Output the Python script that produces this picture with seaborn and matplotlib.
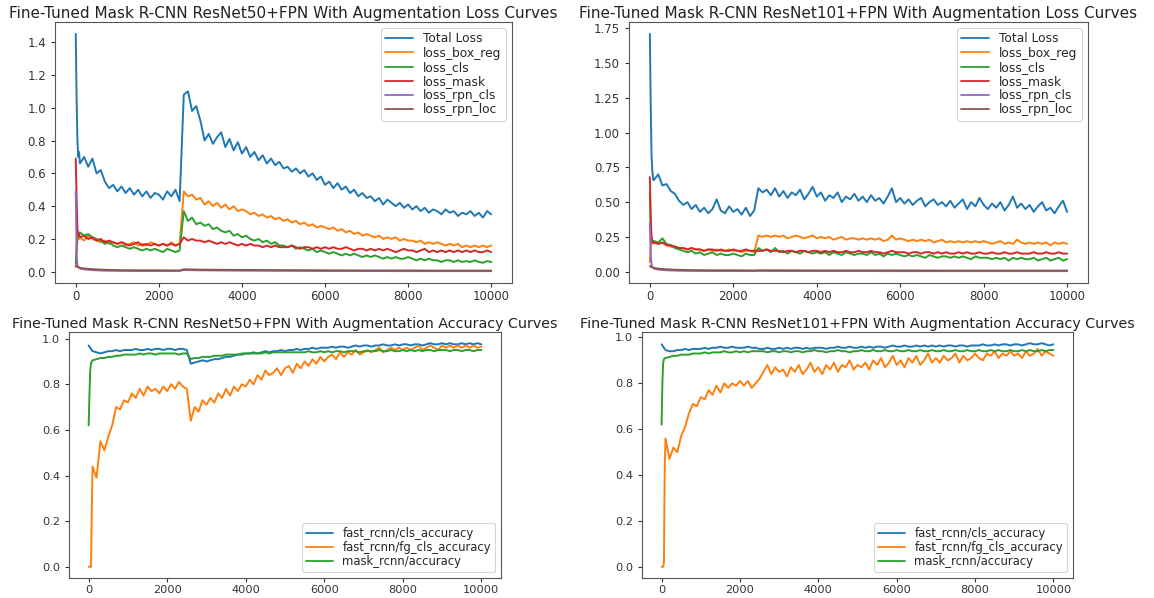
import matplotlib
matplotlib.use("Agg")
import matplotlib.pyplot as plt
import seaborn as sns

# ---------------------------------------------------------------------------
# Training logs (iteration grid shared by the per-iteration metrics)
# ---------------------------------------------------------------------------
ITERS = [0, 20, 40, 60, 80] + list(range(100, 10001, 100))
RPN_ITERS = [0, 20, 40, 60, 80, 100, 200, 400, 700, 1000, 1500, 2000, 2500,
             2600, 3000, 4000, 5000, 6000, 7000, 8000, 9000, 10000]

# ResNet50+FPN losses
r50_total_loss = [
    1.45, 1.05, 0.80, 0.70, 0.73,
    0.66, 0.70, 0.64, 0.69, 0.60, 0.62, 0.55, 0.51, 0.53, 0.49,
    0.52, 0.48, 0.51, 0.47, 0.50, 0.46, 0.49, 0.45, 0.48, 0.47,
    0.44, 0.49, 0.46, 0.50, 0.43, 1.08, 1.10, 0.98, 1.01, 0.92,
    0.80, 0.84, 0.78, 0.82, 0.85, 0.76, 0.81, 0.74, 0.79, 0.72,
    0.76, 0.70, 0.73, 0.68, 0.71, 0.66, 0.69, 0.65, 0.67, 0.63,
    0.64, 0.61, 0.63, 0.60, 0.62, 0.58, 0.60, 0.56, 0.58, 0.53,
    0.55, 0.51, 0.54, 0.50, 0.52, 0.48, 0.50, 0.46, 0.48, 0.45,
    0.46, 0.43, 0.45, 0.41, 0.44, 0.42, 0.40, 0.42, 0.39, 0.41,
    0.38, 0.40, 0.37, 0.39, 0.36, 0.38, 0.37, 0.35, 0.38, 0.36,
    0.37, 0.34, 0.36, 0.35, 0.37, 0.34, 0.36, 0.33, 0.37, 0.35,
]
r50_loss_box_reg = [
    0.03, 0.12, 0.19, 0.21, 0.20,
    0.21, 0.19, 0.22, 0.20, 0.19, 0.18, 0.19, 0.17, 0.18, 0.17,
    0.18, 0.16, 0.17, 0.18, 0.16, 0.17, 0.16, 0.18, 0.17, 0.16,
    0.17, 0.16, 0.18, 0.16, 0.17, 0.49, 0.46, 0.47, 0.44, 0.45,
    0.41, 0.43, 0.40, 0.42, 0.39, 0.41, 0.38, 0.40, 0.37, 0.38,
    0.37, 0.35, 0.36, 0.34, 0.35, 0.33, 0.34, 0.32, 0.33, 0.31,
    0.32, 0.30, 0.31, 0.29, 0.30, 0.28, 0.29, 0.27, 0.28, 0.27,
    0.26, 0.27, 0.25, 0.26, 0.24, 0.25, 0.23, 0.24, 0.22, 0.23,
    0.22, 0.21, 0.22, 0.20, 0.21, 0.20, 0.21, 0.19, 0.20, 0.19,
    0.19, 0.18, 0.19, 0.17, 0.18, 0.17, 0.18, 0.17, 0.16, 0.17,
    0.16, 0.17, 0.15, 0.16, 0.15, 0.16, 0.15, 0.16, 0.15, 0.16,
]
r50_loss_cls = [
    0.05, 0.15, 0.22, 0.24, 0.23,
    0.24, 0.22, 0.23, 0.21, 0.20, 0.19, 0.17, 0.18, 0.16, 0.15,
    0.16, 0.15, 0.14, 0.15, 0.14, 0.13, 0.14, 0.13, 0.14, 0.13,
    0.12, 0.14, 0.13, 0.12, 0.13, 0.37, 0.31, 0.33, 0.29, 0.30,
    0.28, 0.29, 0.26, 0.27, 0.25, 0.24, 0.25, 0.22, 0.23, 0.21,
    0.22, 0.20, 0.19, 0.20, 0.18, 0.19, 0.17, 0.18, 0.16, 0.16,
    0.15, 0.16, 0.14, 0.15, 0.14, 0.13, 0.14, 0.12, 0.13, 0.12,
    0.11, 0.12, 0.11, 0.10, 0.11, 0.10, 0.11, 0.10, 0.09, 0.10,
    0.09, 0.10, 0.09, 0.08, 0.09, 0.08, 0.09, 0.08, 0.08, 0.09,
    0.08, 0.07, 0.08, 0.07, 0.08, 0.07, 0.07, 0.06, 0.07, 0.07,
    0.06, 0.07, 0.06, 0.065, 0.06, 0.07, 0.06, 0.055, 0.065, 0.06,
]
r50_loss_mask = [
    0.69, 0.45, 0.26, 0.22, 0.23,
    0.21, 0.22, 0.20, 0.21, 0.19, 0.20, 0.18, 0.19, 0.18, 0.17,
    0.18, 0.17, 0.16, 0.17, 0.18, 0.16, 0.17, 0.16, 0.17, 0.16,
    0.17, 0.16, 0.17, 0.16, 0.17, 0.21, 0.19, 0.20, 0.19, 0.19,
    0.18, 0.19, 0.18, 0.17, 0.18, 0.17, 0.18, 0.17, 0.16, 0.17,
    0.16, 0.17, 0.16, 0.16, 0.15, 0.16, 0.15, 0.16, 0.15, 0.15,
    0.15, 0.16, 0.15, 0.14, 0.15, 0.15, 0.14, 0.15, 0.14, 0.15,
    0.14, 0.15, 0.14, 0.14, 0.15, 0.14, 0.13, 0.14, 0.14, 0.13,
    0.14, 0.13, 0.14, 0.13, 0.14, 0.13, 0.12, 0.13, 0.14, 0.13,
    0.13, 0.12, 0.13, 0.14, 0.12, 0.13, 0.12, 0.13, 0.12, 0.13,
    0.12, 0.13, 0.12, 0.13, 0.12, 0.13, 0.12, 0.12, 0.13, 0.12,
]
r50_loss_rpn_cls = [0.49, 0.10, 0.04, 0.03, 0.025, 0.02, 0.015, 0.010, 0.007,
                    0.006, 0.005, 0.005, 0.005, 0.011, 0.009, 0.007, 0.006,
                    0.005, 0.005, 0.004, 0.004, 0.004]
r50_loss_rpn_loc = [0.035, 0.032, 0.030, 0.028, 0.026, 0.024, 0.020, 0.016,
                    0.012, 0.010, 0.009, 0.009, 0.008, 0.015, 0.013, 0.011,
                    0.010, 0.009, 0.008, 0.008, 0.007, 0.007]

# ResNet101+FPN losses
r101_total_loss = [
    1.71, 1.20, 0.84, 0.72, 0.66,
    0.66, 0.70, 0.62, 0.63, 0.58, 0.56, 0.51, 0.48, 0.50, 0.45,
    0.48, 0.43, 0.46, 0.42, 0.45, 0.52, 0.44, 0.42, 0.47, 0.43,
    0.45, 0.41, 0.46, 0.40, 0.44, 0.60, 0.57, 0.59, 0.55, 0.60,
    0.54, 0.58, 0.53, 0.57, 0.55, 0.59, 0.52, 0.56, 0.61, 0.54,
    0.57, 0.51, 0.55, 0.53, 0.57, 0.50, 0.54, 0.52, 0.56, 0.51,
    0.54, 0.50, 0.55, 0.51, 0.53, 0.49, 0.54, 0.60, 0.50, 0.53,
    0.49, 0.52, 0.48, 0.51, 0.53, 0.47, 0.50, 0.52, 0.48, 0.50,
    0.47, 0.51, 0.46, 0.49, 0.52, 0.45, 0.50, 0.47, 0.53, 0.48,
    0.45, 0.49, 0.46, 0.50, 0.44, 0.48, 0.54, 0.46, 0.49, 0.45,
    0.48, 0.43, 0.47, 0.50, 0.44, 0.46, 0.42, 0.47, 0.51, 0.43,
]
r101_loss_box_reg = [
    0.07, 0.18, 0.22, 0.21, 0.20,
    0.21, 0.20, 0.21, 0.19, 0.18, 0.18, 0.17, 0.17, 0.16, 0.17,
    0.16, 0.16, 0.15, 0.16, 0.15, 0.16, 0.15, 0.15, 0.16, 0.15,
    0.15, 0.14, 0.15, 0.15, 0.14, 0.26, 0.25, 0.26, 0.25, 0.26,
    0.25, 0.26, 0.24, 0.25, 0.26, 0.25, 0.24, 0.25, 0.26, 0.24,
    0.25, 0.24, 0.25, 0.23, 0.24, 0.25, 0.23, 0.24, 0.24, 0.23,
    0.24, 0.23, 0.24, 0.23, 0.24, 0.22, 0.23, 0.26, 0.23, 0.24,
    0.23, 0.22, 0.23, 0.22, 0.23, 0.22, 0.23, 0.21, 0.22, 0.23,
    0.21, 0.22, 0.21, 0.22, 0.21, 0.22, 0.21, 0.22, 0.21, 0.22,
    0.21, 0.20, 0.21, 0.22, 0.20, 0.21, 0.20, 0.23, 0.21, 0.20,
    0.21, 0.20, 0.21, 0.20, 0.21, 0.19, 0.21, 0.20, 0.21, 0.20,
]
r101_loss_cls = [
    0.57, 0.30, 0.22, 0.21, 0.22,
    0.22, 0.21, 0.24, 0.20, 0.19, 0.17, 0.16, 0.15, 0.14, 0.15,
    0.13, 0.14, 0.12, 0.13, 0.14, 0.12, 0.13, 0.12, 0.12, 0.13,
    0.12, 0.11, 0.13, 0.12, 0.12, 0.17, 0.15, 0.16, 0.14, 0.17,
    0.14, 0.15, 0.13, 0.15, 0.14, 0.13, 0.15, 0.14, 0.13, 0.14,
    0.13, 0.14, 0.12, 0.14, 0.13, 0.12, 0.14, 0.13, 0.12, 0.13,
    0.13, 0.12, 0.14, 0.12, 0.13, 0.11, 0.13, 0.12, 0.13, 0.12,
    0.11, 0.12, 0.11, 0.12, 0.11, 0.10, 0.12, 0.11, 0.10, 0.11,
    0.11, 0.10, 0.11, 0.10, 0.11, 0.10, 0.09, 0.11, 0.10, 0.10,
    0.10, 0.09, 0.10, 0.09, 0.10, 0.08, 0.10, 0.09, 0.10, 0.09,
    0.09, 0.10, 0.08, 0.09, 0.10, 0.08, 0.09, 0.10, 0.08, 0.09,
]
r101_loss_mask = [
    0.68, 0.40, 0.25, 0.22, 0.21,
    0.21, 0.20, 0.21, 0.19, 0.19, 0.18, 0.17, 0.17, 0.16, 0.17,
    0.16, 0.16, 0.15, 0.16, 0.16, 0.15, 0.16, 0.15, 0.15, 0.16,
    0.15, 0.15, 0.16, 0.15, 0.15, 0.15, 0.15, 0.16, 0.15, 0.15,
    0.15, 0.14, 0.15, 0.15, 0.14, 0.15, 0.15, 0.14, 0.15, 0.15,
    0.14, 0.15, 0.14, 0.15, 0.14, 0.14, 0.15, 0.14, 0.14, 0.15,
    0.14, 0.14, 0.15, 0.14, 0.14, 0.13, 0.14, 0.15, 0.14, 0.14,
    0.14, 0.13, 0.14, 0.14, 0.13, 0.14, 0.14, 0.13, 0.14, 0.13,
    0.14, 0.13, 0.13, 0.14, 0.13, 0.14, 0.13, 0.13, 0.14, 0.13,
    0.13, 0.14, 0.13, 0.13, 0.14, 0.13, 0.13, 0.14, 0.13, 0.13,
    0.13, 0.14, 0.13, 0.13, 0.14, 0.13, 0.13, 0.14, 0.13, 0.13,
]
r101_loss_rpn_cls = [0.35, 0.12, 0.05, 0.035, 0.028, 0.022, 0.015, 0.010,
                     0.007, 0.006, 0.005, 0.005, 0.005, 0.006, 0.005, 0.005,
                     0.005, 0.004, 0.004, 0.004, 0.004, 0.004]
r101_loss_rpn_loc = [0.040, 0.036, 0.033, 0.031, 0.029, 0.027, 0.022, 0.017,
                     0.013, 0.011, 0.010, 0.010, 0.009, 0.010, 0.010, 0.009,
                     0.009, 0.009, 0.008, 0.008, 0.008, 0.008]

# ResNet50+FPN accuracies
r50_cls_accuracy = [
    0.97, 0.965, 0.96, 0.955, 0.95,
    0.945, 0.94, 0.935, 0.94, 0.945, 0.945, 0.95, 0.945, 0.95, 0.95,
    0.95, 0.955, 0.95, 0.95, 0.955, 0.95, 0.955, 0.955, 0.95, 0.955,
    0.955, 0.95, 0.955, 0.955, 0.95, 0.89, 0.895, 0.90, 0.905, 0.90,
    0.905, 0.91, 0.91, 0.915, 0.92, 0.92, 0.925, 0.93, 0.93, 0.935,
    0.935, 0.94, 0.935, 0.94, 0.945, 0.94, 0.945, 0.945, 0.95, 0.945,
    0.95, 0.95, 0.955, 0.95, 0.955, 0.955, 0.96, 0.955, 0.96, 0.96,
    0.96, 0.965, 0.96, 0.965, 0.965, 0.96, 0.965, 0.97, 0.965, 0.97,
    0.97, 0.965, 0.97, 0.97, 0.975, 0.97, 0.97, 0.975, 0.97, 0.975,
    0.975, 0.97, 0.975, 0.975, 0.97, 0.975, 0.98, 0.975, 0.975, 0.98,
    0.975, 0.98, 0.975, 0.975, 0.98, 0.975, 0.98, 0.975, 0.98, 0.975,
]
r50_fg_cls_accuracy = [
    0.0, 0.0, 0.0, 0.0, 0.25,
    0.44, 0.39, 0.55, 0.51, 0.57, 0.62, 0.70, 0.69, 0.73, 0.72,
    0.76, 0.74, 0.78, 0.75, 0.79, 0.77, 0.78, 0.76, 0.79, 0.77,
    0.80, 0.78, 0.81, 0.79, 0.78, 0.64, 0.70, 0.68, 0.73, 0.71,
    0.74, 0.72, 0.76, 0.74, 0.78, 0.75, 0.79, 0.77, 0.80, 0.79,
    0.82, 0.80, 0.84, 0.82, 0.86, 0.84, 0.85, 0.87, 0.84, 0.87,
    0.88, 0.85, 0.89, 0.87, 0.90, 0.88, 0.91, 0.89, 0.92, 0.90,
    0.92, 0.93, 0.91, 0.94, 0.92, 0.94, 0.93, 0.95, 0.93, 0.94,
    0.95, 0.94, 0.95, 0.96, 0.94, 0.95, 0.96, 0.95, 0.96, 0.95,
    0.96, 0.95, 0.96, 0.97, 0.95, 0.96, 0.97, 0.96, 0.95, 0.97,
    0.96, 0.97, 0.96, 0.97, 0.96, 0.97, 0.96, 0.97, 0.96, 0.965,
]
r50_mask_accuracy = [
    0.62, 0.75, 0.86, 0.89, 0.90,
    0.905, 0.91, 0.915, 0.915, 0.92, 0.92, 0.925, 0.925, 0.93, 0.93,
    0.93, 0.93, 0.935, 0.93, 0.935, 0.935, 0.93, 0.935, 0.935, 0.935,
    0.935, 0.935, 0.93, 0.935, 0.935, 0.91, 0.915, 0.915, 0.92, 0.92,
    0.92, 0.925, 0.925, 0.925, 0.93, 0.93, 0.93, 0.93, 0.935, 0.935,
    0.935, 0.935, 0.935, 0.935, 0.94, 0.935, 0.94, 0.94, 0.94, 0.94,
    0.94, 0.94, 0.94, 0.94, 0.94, 0.945, 0.94, 0.94, 0.945, 0.94,
    0.945, 0.94, 0.945, 0.945, 0.94, 0.945, 0.945, 0.945, 0.94, 0.945,
    0.945, 0.945, 0.945, 0.95, 0.945, 0.945, 0.95, 0.945, 0.945, 0.95,
    0.945, 0.95, 0.945, 0.95, 0.945, 0.95, 0.95, 0.945, 0.95, 0.95,
    0.95, 0.945, 0.95, 0.95, 0.945, 0.95, 0.95, 0.945, 0.95, 0.95,
]

# ResNet101+FPN accuracies
r101_cls_accuracy = [
    0.97, 0.965, 0.96, 0.955, 0.95,
    0.945, 0.94, 0.94, 0.945, 0.945, 0.95, 0.945, 0.95, 0.95, 0.95,
    0.955, 0.95, 0.955, 0.955, 0.96, 0.955, 0.955, 0.96, 0.955, 0.955,
    0.955, 0.96, 0.955, 0.955, 0.95, 0.95, 0.955, 0.95, 0.95, 0.955,
    0.95, 0.955, 0.95, 0.955, 0.955, 0.95, 0.955, 0.95, 0.955, 0.955,
    0.955, 0.95, 0.955, 0.955, 0.96, 0.955, 0.955, 0.96, 0.955, 0.955,
    0.96, 0.955, 0.96, 0.955, 0.96, 0.96, 0.955, 0.96, 0.965, 0.96,
    0.96, 0.965, 0.96, 0.96, 0.965, 0.96, 0.965, 0.96, 0.965, 0.96,
    0.965, 0.96, 0.965, 0.965, 0.96, 0.965, 0.965, 0.96, 0.965, 0.965,
    0.965, 0.97, 0.965, 0.965, 0.97, 0.965, 0.97, 0.97, 0.965, 0.97,
    0.97, 0.965, 0.97, 0.975, 0.97, 0.97, 0.975, 0.97, 0.965, 0.97,
]
r101_fg_cls_accuracy = [
    0.0, 0.0, 0.0, 0.02, 0.43,
    0.56, 0.47, 0.52, 0.50, 0.57, 0.61, 0.67, 0.71, 0.70, 0.74,
    0.73, 0.77, 0.75, 0.79, 0.76, 0.80, 0.78, 0.80, 0.79, 0.81,
    0.79, 0.81, 0.78, 0.80, 0.82, 0.85, 0.88, 0.84, 0.87, 0.85,
    0.86, 0.83, 0.87, 0.85, 0.88, 0.84, 0.86, 0.89, 0.85, 0.87,
    0.84, 0.88, 0.86, 0.89, 0.85, 0.88, 0.87, 0.90, 0.86, 0.88,
    0.87, 0.89, 0.86, 0.90, 0.88, 0.91, 0.87, 0.89, 0.92, 0.88,
    0.90, 0.87, 0.91, 0.89, 0.92, 0.88, 0.90, 0.93, 0.89, 0.91,
    0.89, 0.92, 0.90, 0.91, 0.93, 0.89, 0.92, 0.90, 0.91, 0.93,
    0.91, 0.90, 0.93, 0.92, 0.94, 0.91, 0.93, 0.92, 0.94, 0.92,
    0.93, 0.91, 0.94, 0.92, 0.93, 0.95, 0.92, 0.94, 0.93, 0.92,
]
r101_mask_accuracy = [
    0.62, 0.80, 0.89, 0.905, 0.91,
    0.91, 0.915, 0.92, 0.92, 0.925, 0.925, 0.925, 0.93, 0.93, 0.93,
    0.935, 0.93, 0.935, 0.935, 0.935, 0.94, 0.935, 0.935, 0.94, 0.935,
    0.94, 0.935, 0.94, 0.94, 0.94, 0.94, 0.935, 0.94, 0.94, 0.935,
    0.94, 0.94, 0.935, 0.94, 0.94, 0.935, 0.94, 0.94, 0.945, 0.94,
    0.94, 0.935, 0.94, 0.94, 0.945, 0.94, 0.94, 0.935, 0.94, 0.94,
    0.945, 0.94, 0.94, 0.945, 0.94, 0.94, 0.945, 0.94, 0.94, 0.945,
    0.94, 0.94, 0.945, 0.94, 0.94, 0.945, 0.94, 0.94, 0.945, 0.94,
    0.94, 0.945, 0.94, 0.94, 0.945, 0.94, 0.94, 0.945, 0.94, 0.94,
    0.945, 0.94, 0.94, 0.945, 0.94, 0.945, 0.94, 0.94, 0.945, 0.94,
    0.94, 0.945, 0.94, 0.945, 0.94, 0.94, 0.945, 0.94, 0.945, 0.945,
]

LOSS_LABELS = ["Total Loss", "loss_box_reg", "loss_cls", "loss_mask",
               "loss_rpn_cls", "loss_rpn_loc"]
ACC_LABELS = ["fast_rcnn/cls_accuracy", "fast_rcnn/fg_cls_accuracy",
              "mask_rcnn/accuracy"]

TITLES = [
    "Fine-Tuned Mask R-CNN ResNet50+FPN With Augmentation Loss Curves",
    "Fine-Tuned Mask R-CNN ResNet101+FPN With Augmentation Loss Curves",
    "Fine-Tuned Mask R-CNN ResNet50+FPN With Augmentation Accuracy Curves",
    "Fine-Tuned Mask R-CNN ResNet101+FPN With Augmentation Accuracy Curves",
]

# ---------------------------------------------------------------------------
# Styling
# ---------------------------------------------------------------------------
sns.set_style("ticks")
plt.rcParams["font.family"] = ["DejaVu Sans"]
plt.rcParams["axes.linewidth"] = 0.8
plt.rcParams["xtick.color"] = "#333333"
plt.rcParams["ytick.color"] = "#333333"
plt.rcParams["xtick.major.size"] = 3.0
plt.rcParams["ytick.major.size"] = 3.0

palette = sns.color_palette("tab10")

W, H = 1154, 598
fig = plt.figure(figsize=(W / 100, H / 100), dpi=100)


def place_axes(left, top, right, bottom):
    return fig.add_axes([left / W, 1 - bottom / H, (right - left) / W,
                         (bottom - top) / H])


def draw_panel(ax, curves, title, legend_loc, title_size, tick_size,
               legend_size):
    for i, (label, xs, ys) in enumerate(curves):
        assert len(xs) == len(ys), label
        sns.lineplot(x=xs, y=ys, ax=ax, color=palette[i], label=label,
                     linewidth=1.4)
    ax.set_title(title, fontsize=title_size, pad=3, color="#222222")
    ax.set_xlabel("")
    ax.set_ylabel("")
    ax.tick_params(axis="both", labelsize=tick_size, labelcolor="#333333")
    ax.tick_params(axis="x", pad=2)
    ax.set_xticks([0, 2000, 4000, 6000, 8000, 10000])
    for side in ("top", "right", "left", "bottom"):
        ax.spines[side].set_visible(True)
        ax.spines[side].set_color("#555555")
    leg = ax.legend(loc=legend_loc, fontsize=legend_size, labelspacing=0.1,
                    handlelength=2.3, handletextpad=0.8, borderpad=0.35,
                    frameon=True, fancybox=True, framealpha=0.8)
    leg.get_frame().set_edgecolor("#cccccc")
    leg.get_frame().set_linewidth(0.8)
    for line in leg.get_lines():
        line.set_linewidth(1.3)


ax_tl = place_axes(55, 22, 512, 283)
ax_tr = place_axes(629, 22, 1088, 283)
ax_bl = place_axes(69, 332, 501, 578)
ax_br = place_axes(642, 332, 1073, 578)

draw_panel(ax_tl, [
    (LOSS_LABELS[0], ITERS, r50_total_loss),
    (LOSS_LABELS[1], ITERS, r50_loss_box_reg),
    (LOSS_LABELS[2], ITERS, r50_loss_cls),
    (LOSS_LABELS[3], ITERS, r50_loss_mask),
    (LOSS_LABELS[4], RPN_ITERS, r50_loss_rpn_cls),
    (LOSS_LABELS[5], RPN_ITERS, r50_loss_rpn_loc),
], TITLES[0], "upper right", 11.0, 8.5, 8.8)

draw_panel(ax_tr, [
    (LOSS_LABELS[0], ITERS, r101_total_loss),
    (LOSS_LABELS[1], ITERS, r101_loss_box_reg),
    (LOSS_LABELS[2], ITERS, r101_loss_cls),
    (LOSS_LABELS[3], ITERS, r101_loss_mask),
    (LOSS_LABELS[4], RPN_ITERS, r101_loss_rpn_cls),
    (LOSS_LABELS[5], RPN_ITERS, r101_loss_rpn_loc),
], TITLES[1], "upper right", 11.0, 8.5, 8.8)

draw_panel(ax_bl, [
    (ACC_LABELS[0], ITERS, r50_cls_accuracy),
    (ACC_LABELS[1], ITERS, r50_fg_cls_accuracy),
    (ACC_LABELS[2], ITERS, r50_mask_accuracy),
], TITLES[2], "lower right", 10.3, 8.2, 8.4)

draw_panel(ax_br, [
    (ACC_LABELS[0], ITERS, r101_cls_accuracy),
    (ACC_LABELS[1], ITERS, r101_fg_cls_accuracy),
    (ACC_LABELS[2], ITERS, r101_mask_accuracy),
], TITLES[3], "lower right", 10.3, 8.2, 8.4)

fig.savefig("out.png", dpi=100, facecolor="white")
